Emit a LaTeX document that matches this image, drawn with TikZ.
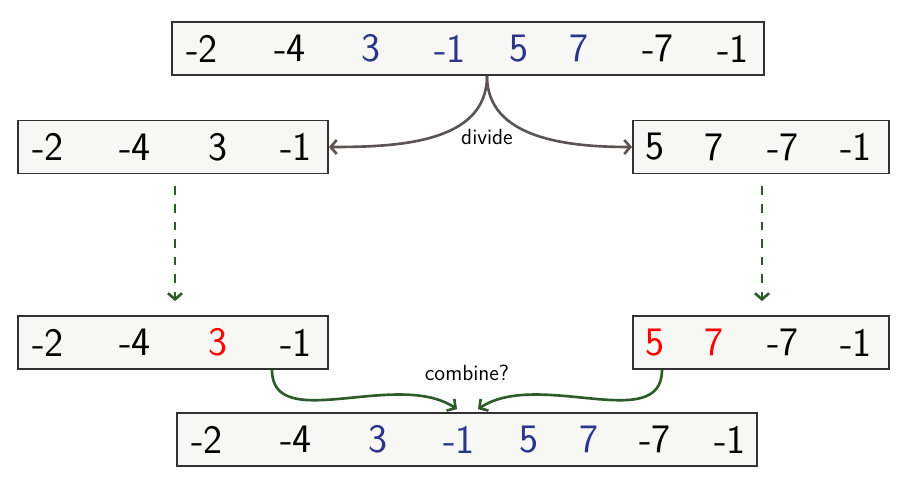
\documentclass[tikz,border=0pt]{standalone}
\usetikzlibrary{arrows,arrows.meta,positioning,calc}
\definecolor{numblue}{RGB}{42,54,138}
\definecolor{numred}{RGB}{255,0,0}
\definecolor{boxfill}{RGB}{247,247,245}
\definecolor{boxline}{RGB}{50,50,50}
\definecolor{dividegray}{RGB}{90,85,82}
\definecolor{combinegreen}{RGB}{45,92,40}
\tikzset{
  array box/.style={
    draw=boxline,
    line width=1pt,
    fill=boxfill,
    minimum height=1.06cm,
    inner sep=0pt
  },
  entry/.style={
    font=\sffamily\fontsize{23}{27}\selectfont,
    inner sep=0pt
  },
  step label/.style={
    font=\sffamily\fontsize{12.5}{15}\selectfont
  },
  barb/.style={>={Straight Barb[length=3.5pt,width=8pt]}},
  divide arrow/.style={barb, ->, draw=dividegray, line width=1.5pt},
  sort arrow/.style={barb, ->, draw=combinegreen, line width=1.5pt, dash pattern=on 5pt off 5pt},
  combine arrow/.style={barb, ->, draw=combinegreen, line width=1.5pt}
}
\begin{document}
\begin{tikzpicture}[x=0.02cm, y=0.02cm]
   \useasboundingbox (0,0) rectangle (904,-486);

   % arrays
   \node[array box, minimum width=11.84cm] (whole) at (468,-48.5) {};
   \node[array box, minimum width=6.2cm] (lefthalf) at (173,-147) {};
   \node[array box, minimum width=5.12cm] (righthalf) at (761,-147) {};
   \node[array box, minimum width=6.2cm] (leftsorted) at (173,-342.5) {};
   \node[array box, minimum width=5.12cm] (rightsorted) at (761,-342.5) {};
   \node[array box, minimum width=11.6cm] (merged) at (467,-439.5) {};

   % entries
   \foreach \x/\v/\c [count=\i] in {202/-2/black,290/-4/black,371/3/numblue,450/-1/numblue,519/5/numblue,579/7/numblue,658/-7/black,733/-1/black}
      \node[entry, text=\c] (w\i) at (\x,-48.5) {\v};
   \foreach \x/\v/\c [count=\i] in {48/-2/black,135/-4/black,218/3/black,296/-1/black}
      \node[entry, text=\c] (l\i) at (\x,-147) {\v};
   \foreach \x/\v/\c [count=\i] in {655/5/black,714/7/black,783/-7/black,856/-1/black}
      \node[entry, text=\c] (r\i) at (\x,-147) {\v};
   \foreach \x/\v/\c [count=\i] in {48/-2/black,135/-4/black,218/3/numred,296/-1/black}
      \node[entry, text=\c] (ls\i) at (\x,-342.5) {\v};
   \foreach \x/\v/\c [count=\i] in {655/5/numred,714/7/numred,783/-7/black,856/-1/black}
      \node[entry, text=\c] (rs\i) at (\x,-342.5) {\v};
   \foreach \x/\v/\c [count=\i] in {207/-2/black,296/-4/black,378/3/numblue,459/-1/numblue,529/5/numblue,589/7/numblue,655/-7/black,730/-1/black}
      \node[entry, text=\c] (m\i) at (\x,-439.5) {\v};

   % divide
   \coordinate (cut) at ($(whole.south)+(19,0)$);
   \draw[divide arrow] (cut) to[out=-90,in=0] (lefthalf.east);
   \draw[divide arrow] (cut) to[out=-90,in=180] (righthalf.west);
   \node[step label] (dividetext) at (487,-137) {divide};

   % sort each half
   \draw[sort arrow] ($(lefthalf.south)+(2,-12)$) -- ($(leftsorted.north)+(2,14)$);
   \draw[sort arrow] ($(righthalf.south)+(1,-12)$) -- ($(rightsorted.north)+(1,14)$);

   % combine
   \draw[combine arrow] ($(leftsorted.south)+(99,0)$) .. controls +(0,-65) and +(-60,40) .. ($(merged.north)+(-10,3)$);
   \draw[combine arrow] ($(rightsorted.south)+(-99,0)$) .. controls +(0,-65) and +(60,40) .. ($(merged.north)+(11,3)$);
   \node[step label] (combinetext) at (467,-373) {combine?};
\end{tikzpicture}
\end{document}
